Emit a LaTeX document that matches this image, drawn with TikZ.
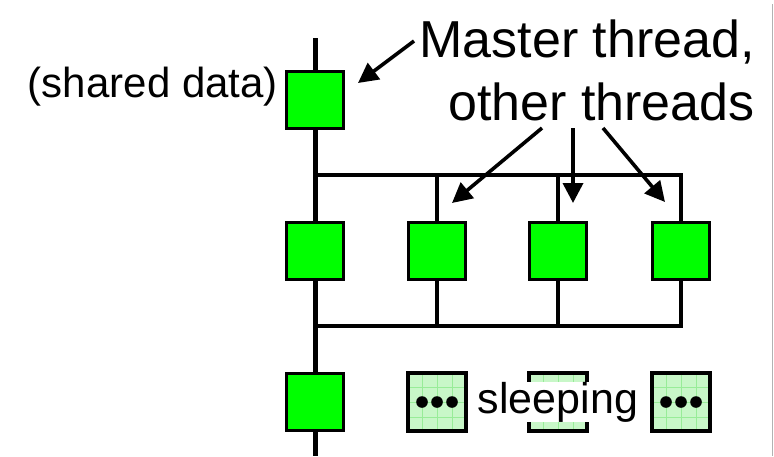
\documentclass[tikz,border=0pt]{standalone}
\usepackage{fontspec}
\setmainfont{Liberation Sans}
\usetikzlibrary{arrows.meta}
\definecolor{sleepfill}{HTML}{C8F7C8}
\definecolor{sleepgrid}{HTML}{98EC98}
\begin{document}
\begin{tikzpicture}[x=1pt,y=-1pt,
  thr/.style={draw=black,line width=3.8pt,fill=green,minimum size=57pt,inner sep=0pt},
  sleepbox/.style={draw=black,line width=3.8pt,fill=sleepfill,minimum size=58pt,inner sep=0pt,
    path picture={
      \draw[sleepgrid,line width=1pt] ([shift={(-30pt,-30pt)}]path picture bounding box.center) grid[step=15pt] ([shift={(30pt,30pt)}]path picture bounding box.center);
      \foreach \dx in {-15,0,15}{\fill[black] ([xshift=\dx pt]path picture bounding box.center) circle[radius=5.8pt];}
    }},
  mainline/.style={line width=5pt},
  forkthick/.style={line width=4.2pt},
  forkthin/.style={line width=3.2pt},
  arr/.style={line width=3.6pt,-{Triangle[length=20pt,width=20pt]}},
  lbl/.style={inner sep=0pt,font=\fontsize{52}{60}\selectfont},
  lblsmall/.style={inner sep=0pt,font=\fontsize{42}{48}\selectfont}
]
\useasboundingbox (0,0) rectangle (774,456);
\draw[gray!60,line width=1pt] (772,4) -- (772,456);

% boxes
\node[thr] (m0) at (315,100) {};
\node[thr] (r1) at (315,251) {};
\node[thr] (t1) at (437,251) {};
\node[thr] (t2) at (558,251) {};
\node[thr] (t3) at (681,251) {};
\node[thr] (r2) at (315,402) {};
\node[sleepbox] (s1) at (437,402) {};
\node[sleepbox] (s2) at (558,402) {};
\node[sleepbox] (s3) at (681,402) {};

% coordinates
\coordinate (top) at (315,38);
\coordinate (bot) at (315,456);
\coordinate (f0) at (315,175);
\coordinate (f1) at (437,175);
\coordinate (f2) at (558,175);
\coordinate (f3) at (681,175);
\coordinate (j0) at (315,326);
\coordinate (j1) at (437,326);
\coordinate (j2) at (558,326);
\coordinate (j3) at (681,326);

% main thread
\draw[mainline] (top) -- (m0.north);
\draw[mainline] (m0.south) -- (r1.north);
\draw[mainline] (r1.south) -- (r2.north);
\draw[mainline] (r2.south) -- (bot);

% fork
\draw[forkthick] (f0) -- (f2);
\draw[forkthin] (f2) -- (f3) -- (t3.north);
\draw[forkthin] (f1) -- (t1.north);
\draw[forkthin] (f2) -- (t2.north);
% join
\draw[forkthin] (t1.south) -- (j1);
\draw[forkthin] (t2.south) -- (j2);
\draw[forkthin] (t3.south) -- (j3) -- (j2);
\draw[forkthick] (j2) -- (j0);

% labels
\node[lbl,anchor=base east] (l1) at (755,57) {Master thread,};
\node[lbl,anchor=base east] (l2) at (755,120) {other threads};
\node[lblsmall,anchor=base east] (sd) at (278,97) {(shared data)};
\node[inner sep=0pt,inner xsep=2pt,fill=white,anchor=base,font=\fontsize{43}{48}\selectfont] (sl) at (558,413) {sleeping};

% arrows
\coordinate (a0s) at (414,41);
\coordinate (a0e) at (358,83);
\coordinate (a1s) at (542,128);
\coordinate (a1e) at (452,203);
\coordinate (a2s) at (573,128);
\coordinate (a2e) at (573,203);
\coordinate (a3s) at (603,128);
\coordinate (a3e) at (665,202);
\draw[arr] (a0s) -- (a0e);
\draw[arr] (a1s) -- (a1e);
\draw[arr] (a2s) -- (a2e);
\draw[arr] (a3s) -- (a3e);
\end{tikzpicture}
\end{document}
